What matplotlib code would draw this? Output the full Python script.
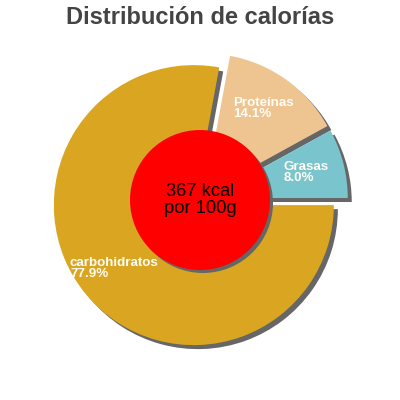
import matplotlib
matplotlib.use("Agg")
from matplotlib import pyplot as plt
from matplotlib.patches import Wedge, Circle

plt.rcParams['font.family'] = ['Liberation Sans', 'DejaVu Sans']

# data
labels = ['Grasas', 'Proteínas', 'carbohidratos']
percents = [8.0, 14.1, 77.9]
colors = ['#7AC5CD', '#EEC591', '#DAA520']
center_text = "367 kcal\npor 100g"
title = "Distribución de calorías"

# label anchors (top-left, pixels from top-left of image)
label_pos = [(284, 161), (233, 97), (70, 257)]

fig = plt.figure(figsize=(4, 4), dpi=100)
ax = fig.add_axes([0, 0, 1, 1])

# explode is in data units (pixels here)
wedges, _ = ax.pie(percents, colors=colors, startangle=0, counterclock=True,
                   radius=140, center=(200, 200), explode=[8, 8, 8],
                   wedgeprops={'linewidth': 0})

# gray drop shadows
for w in wedges:
    cx, cy = w.center
    ax.add_patch(Wedge((cx+4, cy-4), w.r, w.theta1, w.theta2,
                       facecolor='#666666', edgecolor='none', zorder=w.get_zorder()-0.5))

ax.add_patch(Circle((203, 197), 70, facecolor='#666666', edgecolor='none', zorder=3))
ax.add_patch(Circle((200, 200), 70, facecolor='#FF0000', edgecolor='none', zorder=4))
ax.text(200, 200, center_text, ha='center', va='center', fontsize=13.2,
        color='black', linespacing=1.0, zorder=5)

for (x, y), lab, p in zip(label_pos, labels, percents):
    ax.text(x, 400-y, "%s\n%.1f%%" % (lab, p), ha='left', va='top', fontsize=9.6,
            fontweight='bold', color='#FFFDF5', linespacing=0.92, zorder=6)

fig.text(0.5, 1-18/400, title, ha='center', va='center', fontsize=17,
         fontweight='bold', color='#444444')

ax.set_xlim(0, 400)
ax.set_ylim(0, 400)
ax.set_aspect('equal')
ax.axis('off')

fig.savefig('out.png', dpi=100)
